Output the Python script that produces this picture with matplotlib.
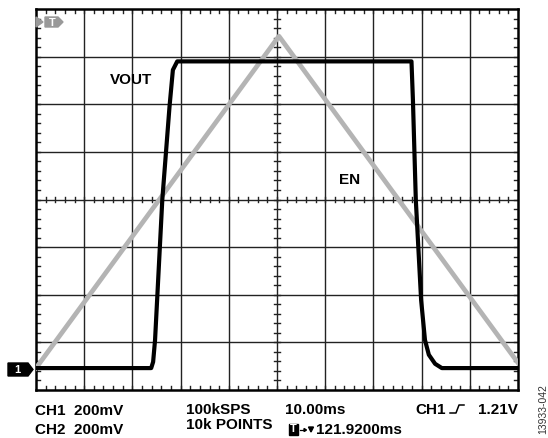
import numpy as np
import matplotlib
matplotlib.use("Agg")
from matplotlib import pyplot as plt
from matplotlib.lines import Line2D
from matplotlib.patches import Polygon

plt.rcParams["font.family"] = ["Liberation Sans", "DejaVu Sans"]

# traces in screen divisions (10 x 8)
vout_x = [0, 2.39, 2.43, 2.47, 2.62, 2.77, 2.84, 2.93, 3.03, 7.79, 7.82, 7.88, 7.99, 8.07, 8.15, 8.28, 8.42, 10]
vout_y = [0.46, 0.46, 0.59, 1.05, 3.99, 5.95, 6.72, 6.90, 6.90, 6.90, 6.09, 3.99, 1.89, 1.05, 0.74, 0.55, 0.46, 0.46]
en_x = [0, 5.04, 10]
en_y = [0.46, 7.43, 0.57]

labels = {"VOUT": (1.97, 6.51), "EN": (6.51, 4.41)}

W, H = 548, 438
fig = plt.figure(figsize=(W / 100, H / 100), dpi=100)


def fx(px):
    return px / W


def fy(py):
    return 1 - py / H


left, right, top, bottom = 36, 518, 9, 390
ax = fig.add_axes([fx(left), fy(bottom), fx(right - left), (bottom - top) / H])
ax.set_xlim(0, 10)
ax.set_ylim(0, 8)
ax.set_xticks([])
ax.set_yticks([])
for s in ax.spines.values():
    s.set_linewidth(1.8)
    s.set_color("black")

grid_c = "#222222"
for i in range(1, 10):
    ax.axvline(i, color=grid_c, lw=1.0, zorder=1)
for j in range(1, 8):
    ax.axhline(j, color=grid_c, lw=1.0, zorder=1)

# minor ticks on centre cross and border
tick_x = np.arange(0.2, 10, 0.2)
tick_y = np.arange(0.2, 8, 0.2)
for t in tick_x:
    ax.plot([t, t], [4 - 0.06, 4 + 0.06], color=grid_c, lw=1.0, zorder=1)
    ax.plot([t, t], [0, 0.09], color=grid_c, lw=1.0, zorder=1)
    ax.plot([t, t], [8 - 0.09, 8], color=grid_c, lw=1.0, zorder=1)
for t in tick_y:
    ax.plot([5 - 0.06, 5 + 0.06], [t, t], color=grid_c, lw=1.0, zorder=1)
    ax.plot([0, 0.09], [t, t], color=grid_c, lw=1.0, zorder=1)
    ax.plot([10 - 0.09, 10], [t, t], color=grid_c, lw=1.0, zorder=1)

ax.plot(en_x, en_y, color="#b4b4b4", lw=3.4, zorder=3)
ax.plot(vout_x, vout_y, color="black", lw=3.0, zorder=4)

for name, (x, y) in labels.items():
    ax.text(x, y, name, ha="center", va="center", fontsize=11,
            fontweight="bold", zorder=5)

# trigger marker at top-left
tri = Polygon([(fx(36), fy(17)), (fx(43), fy(22)), (fx(36), fy(27))],
              closed=True, transform=fig.transFigure, color="#999999")
fig.patches.append(tri)
tag = Polygon([(fx(45), fy(17)), (fx(58), fy(17)), (fx(63), fy(22)),
               (fx(58), fy(27)), (fx(45), fy(27))],
              closed=True, transform=fig.transFigure, color="#999999")
fig.patches.append(tag)
fig.text(fx(52), fy(22.5), "T", color="white", fontsize=8, fontweight="bold",
         ha="center", va="center")

# channel 1 marker
ch1 = Polygon([(fx(8), fy(363)), (fx(28), fy(363)), (fx(33), fy(369.5)),
               (fx(28), fy(376)), (fx(8), fy(376))],
              closed=True, transform=fig.transFigure, color="black")
fig.patches.append(ch1)
fig.text(fx(17), fy(370), "1", color="white", fontsize=8, fontweight="bold",
         ha="center", va="center")

# bottom readouts
bkw = dict(fontsize=11, fontweight="bold", va="baseline")
fig.text(fx(35), fy(415), "CH1  200mV", **bkw)
fig.text(fx(35), fy(434), "CH2  200mV", **bkw)
fig.text(fx(186), fy(414), "100kSPS", **bkw)
fig.text(fx(186), fy(429), "10k POINTS", **bkw)
fig.text(fx(285), fy(414), "10.00ms", **bkw)
fig.text(fx(415), fy(414), "CH1", **bkw)
fig.text(fx(518), fy(414), "1.21V", ha="right", **bkw)
# trigger slope symbol
fig.add_artist(Line2D([fx(450), fx(456), fx(459), fx(464)],
                      [fy(413), fy(413), fy(405), fy(405)],
                      transform=fig.transFigure, color="black", lw=1.1))
# trigger position readout
tbox = Polygon([(fx(289), fy(424)), (fx(298), fy(424)), (fx(298), fy(435)),
                (fx(289), fy(435))], closed=True, transform=fig.transFigure,
               color="black")
fig.patches.append(tbox)
fig.text(fx(293.5), fy(429.5), "T", color="white", fontsize=8,
         fontweight="bold", ha="center", va="center")
fig.add_artist(Line2D([fx(300), fx(305)], [fy(430), fy(430)],
                      transform=fig.transFigure, color="black", lw=0.9))
fig.add_artist(Polygon([(fx(304), fy(428.5)), (fx(306.5), fy(430)),
                        (fx(304), fy(431.5))], closed=True,
                       transform=fig.transFigure, color="black"))
fig.add_artist(Polygon([(fx(308.5), fy(427)), (fx(313.5), fy(427)),
                        (fx(311), fy(432))], closed=True,
                       transform=fig.transFigure, color="black"))
fig.text(fx(316), fy(434.5), "121.9200ms", **bkw)

fig.text(fx(543), fy(409), "13933-042", rotation=90, fontsize=7.5,
         ha="center", va="center", color="#333333")

fig.savefig("out.png", dpi=100)
